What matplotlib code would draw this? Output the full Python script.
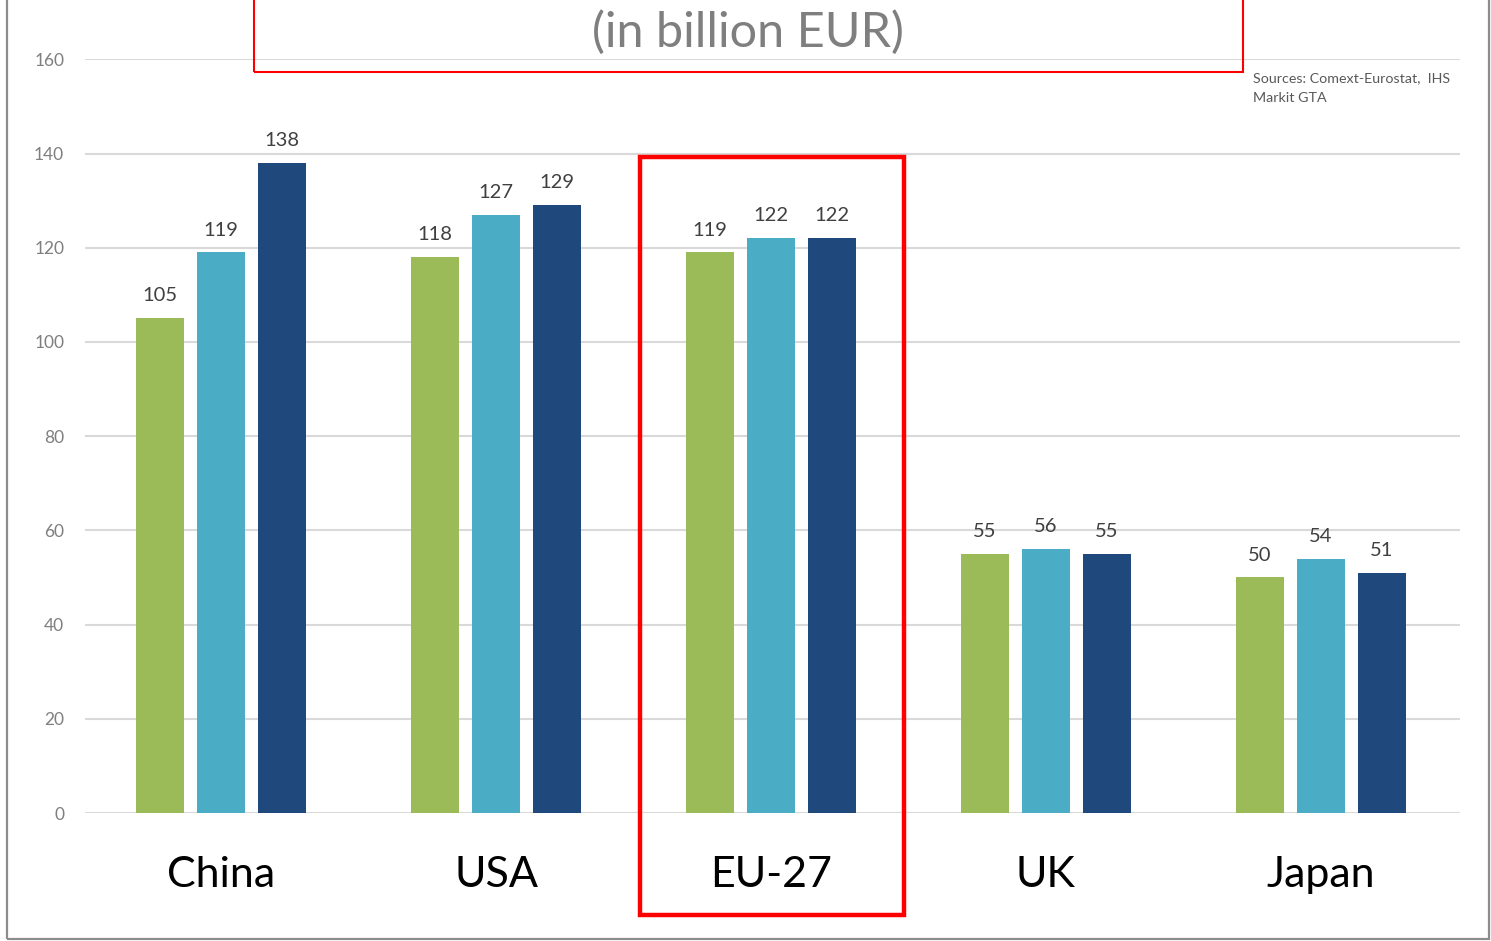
import matplotlib
matplotlib.use("Agg")
import matplotlib.pyplot as plt
from matplotlib.patches import Rectangle
import numpy as np

# Data (billion EUR)
regions = ["China", "USA", "EU-27", "UK", "Japan"]
series_a = [105, 118, 119, 55, 50]
series_b = [119, 127, 122, 56, 54]
series_c = [138, 129, 122, 55, 51]
yticks = [0, 20, 40, 60, 80, 100, 120, 140, 160]

colors = ["#9BBB59", "#4BACC6", "#1F497D"]
font = "Lato"
plt.rcParams["font.family"] = [font, "DejaVu Sans"]

fig = plt.figure(figsize=(14.91, 9.41), dpi=100)
ax = fig.add_axes([0.057, 0.136, 0.922, 0.801])

x = np.arange(len(regions))
width = 0.175
step = 0.222
for i, vals in enumerate([series_a, series_b, series_c]):
    pos = x + (i - 1) * step
    bars = ax.bar(pos, vals, width=width, color=colors[i], zorder=3)
    for b, v in zip(bars, vals):
        ax.annotate(f"{v}", (b.get_x() + b.get_width() / 2, v),
                    xytext=(0, 10), textcoords="offset points",
                    ha="center", va="bottom", fontsize=14.5, color="#404040")

ax.set_xlim(-0.495, 4.505)
ax.set_ylim(0, 160)
ax.set_yticks(yticks)
ax.set_yticklabels([str(t) for t in yticks], fontsize=12.5, color="#7F7F7F")
ax.tick_params(axis="y", length=0, pad=15)
ax.set_xticks([])
ax.grid(axis="y", color="#D9D9D9", linewidth=1.5, zorder=0)
for s in ax.spines.values():
    s.set_visible(False)

# Category names below the bars
for xi, name in zip(x, regions):
    ax.text(xi, -0.082, name, transform=ax.get_xaxis_transform(),
            ha="center", va="center", fontsize=31, color="black")

# Outer border
fig.patches.append(Rectangle((0.0047, 0.002), 0.9940, 1.0, transform=fig.transFigure,
                             fill=False, edgecolor="#8C8C8C", linewidth=1.6))

# Title box
fig.patches.append(Rectangle((254 / 1491, 1 - 72 / 941), (1243 - 254) / 1491, 0.2,
                             transform=fig.transFigure, fill=False,
                             edgecolor="#FF0000", linewidth=1.5, zorder=5))
fig.text(748 / 1491, 1 - 32 / 941, "(in billion EUR)", ha="center", va="center",
         fontsize=35, color="#7F7F7F")

# Highlight around EU-27
fig.patches.append(Rectangle((640 / 1491, 1 - 915 / 941), (904 - 640) / 1491,
                             (915 - 157) / 941, transform=fig.transFigure,
                             fill=False, edgecolor="#FF0000", linewidth=3.2, zorder=6))

fig.text(1253 / 1491, 1 - 72 / 941, "Sources: Comext-Eurostat,  IHS\nMarkit GTA",
         ha="left", va="top", fontsize=10.3, color="#595959", linespacing=1.75)

fig.savefig("out.png", dpi=100)
